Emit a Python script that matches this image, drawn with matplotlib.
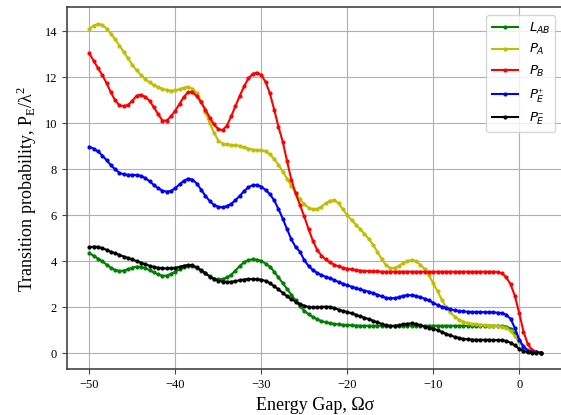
import numpy as np
import matplotlib
matplotlib.use('Agg')
import matplotlib.pyplot as plt

matplotlib.rcParams.update({
    'font.family': ['Liberation Serif', 'DejaVu Serif'],
    'mathtext.fontset': 'custom',
    'mathtext.rm': 'Liberation Serif',
    'mathtext.it': 'DejaVu Sans:italic',
    'mathtext.bf': 'DejaVu Sans:bold',
})

# energy gap grid (Omega sigma), sampled every 0.5
gap = np.arange(-50.0, 3.0, 0.5)

L_AB = [4.35, 4.25, 4.12, 4.0, 3.86, 3.72, 3.62, 3.58, 3.6, 3.66,
        3.73, 3.77, 3.76, 3.7, 3.62, 3.52, 3.43, 3.37, 3.38, 3.46,
        3.55, 3.65, 3.74, 3.8, 3.78, 3.7, 3.6, 3.48, 3.35, 3.25,
        3.22, 3.23, 3.3, 3.42, 3.6, 3.8, 3.96, 4.05, 4.09, 4.07,
        4.02, 3.9, 3.77, 3.55, 3.3, 3.05, 2.8, 2.55, 2.3, 2.05,
        1.85, 1.7, 1.58, 1.48, 1.4, 1.35, 1.31, 1.28, 1.26, 1.24,
        1.23, 1.22, 1.21, 1.2, 1.2, 1.2, 1.2, 1.2, 1.2, 1.2,
        1.2, 1.2, 1.2, 1.2, 1.2, 1.2, 1.2, 1.2, 1.2, 1.2,
        1.2, 1.2, 1.2, 1.2, 1.2, 1.2, 1.2, 1.2, 1.2, 1.2,
        1.2, 1.2, 1.2, 1.2, 1.2, 1.2, 1.19, 1.16, 1.08, 0.88,
        0.55, 0.3, 0.14, 0.07, 0.04, 0.03]

P_A = [14.09, 14.25, 14.32, 14.28, 14.12, 13.9, 13.65, 13.38, 13.1, 12.82,
       12.55, 12.3, 12.1, 11.92, 11.78, 11.66, 11.57, 11.5, 11.45, 11.42,
       11.43, 11.48, 11.55, 11.58, 11.5, 11.3, 10.95, 10.5, 10.0, 9.6,
       9.25, 9.12, 9.08, 9.06, 9.05, 9.02, 8.96, 8.9, 8.86, 8.84,
       8.82, 8.78, 8.65, 8.45, 8.2, 7.9, 7.6, 7.28, 6.97, 6.7,
       6.48, 6.33, 6.26, 6.28, 6.38, 6.52, 6.64, 6.66, 6.52, 6.26,
       6.0, 5.8, 5.6, 5.4, 5.2, 4.98, 4.72, 4.42, 4.1, 3.84,
       3.7, 3.72, 3.8, 3.92, 4.02, 4.06, 4.0, 3.86, 3.66, 3.4,
       3.05, 2.7, 2.33, 2.0, 1.78, 1.6, 1.47, 1.38, 1.32, 1.29,
       1.27, 1.25, 1.23, 1.21, 1.2, 1.18, 1.16, 1.1, 0.98, 0.74,
       0.5, 0.28, 0.14, 0.07, 0.04, 0.03]

P_B = [13.04, 12.72, 12.4, 12.1, 11.75, 11.35, 11.0, 10.78, 10.75, 10.8,
       10.98, 11.2, 11.24, 11.15, 10.98, 10.7, 10.4, 10.12, 10.12, 10.3,
       10.55, 10.85, 11.15, 11.36, 11.35, 11.18, 10.92, 10.6, 10.25, 9.95,
       9.75, 9.7, 9.9, 10.3, 10.75, 11.2, 11.6, 11.95, 12.15, 12.2,
       12.1, 11.8, 11.3, 10.6, 9.85, 9.2, 8.35, 7.55, 6.95, 6.45,
       5.95, 5.4, 4.9, 4.5, 4.25, 4.08, 3.95, 3.85, 3.78, 3.72,
       3.68, 3.65, 3.62, 3.6, 3.58, 3.57, 3.56, 3.56, 3.55, 3.55,
       3.55, 3.55, 3.55, 3.55, 3.55, 3.55, 3.55, 3.55, 3.55, 3.55,
       3.55, 3.55, 3.55, 3.55, 3.55, 3.55, 3.55, 3.55, 3.55, 3.55,
       3.55, 3.55, 3.55, 3.55, 3.55, 3.54, 3.48, 3.3, 3.0, 2.5,
       1.75, 0.95, 0.4, 0.15, 0.06, 0.03]

P_E_plus = [8.98, 8.9, 8.78, 8.6, 8.4, 8.18, 8.0, 7.85, 7.78, 7.76,
            7.76, 7.75, 7.72, 7.62, 7.48, 7.32, 7.18, 7.07, 7.03, 7.06,
            7.18, 7.35, 7.5, 7.6, 7.55, 7.38, 7.12, 6.85, 6.62, 6.45,
            6.37, 6.35, 6.4, 6.5, 6.66, 6.85, 7.05, 7.22, 7.31, 7.32,
            7.25, 7.1, 6.92, 6.65, 6.28, 5.85, 5.4, 4.95, 4.62, 4.42,
            4.05, 3.8, 3.62, 3.5, 3.4, 3.33, 3.26, 3.18, 3.1, 3.03,
            2.96, 2.9, 2.84, 2.78, 2.73, 2.68, 2.62, 2.55, 2.48, 2.42,
            2.39, 2.4, 2.44, 2.5, 2.53, 2.53, 2.5, 2.44, 2.38, 2.3,
            2.2, 2.1, 2.03, 1.98, 1.92, 1.87, 1.84, 1.82, 1.81, 1.8,
            1.8, 1.8, 1.79, 1.79, 1.78, 1.77, 1.75, 1.68, 1.5, 1.1,
            0.6, 0.29, 0.12, 0.06, 0.04, 0.03]

P_E_minus = [4.61, 4.64, 4.63, 4.57, 4.5, 4.42, 4.35, 4.28, 4.21, 4.15,
             4.08, 4.01, 3.94, 3.87, 3.81, 3.76, 3.72, 3.7, 3.69, 3.7,
             3.72, 3.76, 3.81, 3.84, 3.82, 3.74, 3.62, 3.48, 3.34, 3.23,
             3.16, 3.12, 3.11, 3.11, 3.14, 3.18, 3.21, 3.23, 3.23, 3.22,
             3.2, 3.15, 3.05, 2.92, 2.78, 2.63, 2.48, 2.35, 2.25, 2.15,
             2.07, 2.02, 2.0, 2.0, 2.02, 2.03, 2.02, 1.97, 1.9, 1.84,
             1.8, 1.74, 1.68, 1.61, 1.55, 1.49, 1.42, 1.35, 1.28, 1.22,
             1.19, 1.19, 1.22, 1.26, 1.29, 1.3, 1.28, 1.22, 1.16, 1.12,
             1.08, 1.01, 0.93, 0.85, 0.78, 0.72, 0.67, 0.63, 0.61, 0.6,
             0.59, 0.59, 0.59, 0.59, 0.58, 0.58, 0.57, 0.54, 0.46, 0.35,
             0.2, 0.1, 0.05, 0.03, 0.02, 0.02]

fig = plt.figure(figsize=(5.61, 4.15), dpi=100)
ax = fig.add_axes([0.119, 0.110, 0.885, 0.872])

ax.plot(gap, L_AB, 'g.-', ms=4, lw=1.5, label=r'$L_{AB}$')
ax.plot(gap, P_A, 'y.-', ms=4, lw=1.5, label=r'$P_A$')
ax.plot(gap, P_B, 'r.-', ms=4, lw=1.5, label=r'$P_B$')
ax.plot(gap, P_E_plus, 'b.-', ms=4, lw=1.5, label=r'$P_E^{+}$')
ax.plot(gap, P_E_minus, 'k.-', ms=4, lw=1.5, label=r'$P_E^{-}$')

ax.grid(True, color='#b0b0b0', lw=0.8)
ax.set_axisbelow(True)
for sp in ax.spines.values():
    sp.set_color('#444444')
    sp.set_linewidth(1.2)
ax.tick_params(labelsize=9, direction='out', length=3.5, color='#444444')

ax.set_xlabel('Energy Gap, Ωσ', fontsize=13)
ax.set_ylabel('Transition probability, P$_\\mathrm{E}$/λ$^2$', fontsize=13)

ax.legend(loc='upper right', fontsize=9.5, handlelength=2.0,
          labelspacing=0.5, borderaxespad=0.6)

plt.savefig('out.png', dpi=100)
